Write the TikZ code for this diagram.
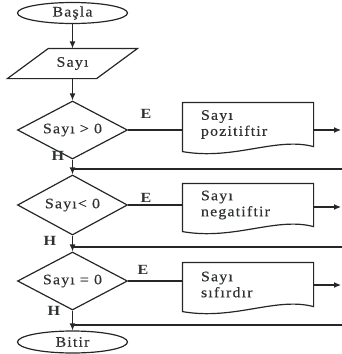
\documentclass[tikz,border=0pt]{standalone}
\usepackage{fontspec}
\setmainfont{Liberation Serif}[FakeStretch=1.1,LetterSpace=8,FakeBold=0.4]
\newfontfamily\labfont{Liberation Serif}[FakeStretch=1.15]
\usetikzlibrary{shapes.geometric,arrows.meta}
\definecolor{ln}{HTML}{262626}
\definecolor{tx}{HTML}{2E332E}
\newcommand{\docshape}[1]{%
  \draw[ln] (#1.north west) -- (#1.north east) -- (#1.south east)
    .. controls ([shift={(-38,-10)}]#1.south east) and ([shift={(52,14)}]#1.south west)
    .. ([shift={(0,5)}]#1.south west) -- cycle;}
\begin{document}
\begin{tikzpicture}[x=1pt,y=-1pt,line width=1.2pt,
  every node/.style={text=tx,font=\fontsize{14.5}{16}\selectfont},
  term/.style={ellipse,draw=ln,minimum width=110,minimum height=21,inner sep=0},
  dec/.style={diamond,draw=ln,minimum width=110,minimum height=58,inner sep=0,aspect=1.9},
  iobox/.style={minimum width=129,minimum height=29,inner sep=0},
  docbox/.style={minimum width=130,text width=94,inner xsep=18,inner ysep=0,align=left},
  lab/.style={font=\labfont\fontsize{14}{15}\selectfont\bfseries,inner sep=0},
  arr/.style={draw=ln,-{Latex[length=7pt,width=6pt]}},
  con/.style={draw=ln}]
\useasboundingbox (0,0) rectangle (342,354);
% column
\node[term] (t1) at (72.5,13) {Başla};
\node[iobox] (p) at (72.5,63.5) {Sayı};
\draw[ln] ([shift={(41,0)}]p.north west) -- (p.north east) -- ([shift={(-41,0)}]p.south east) -- (p.south west) -- cycle;
\node[dec] (d1) at (72.5,130) {Sayı > 0};
\node[dec,minimum height=60] (d2) at (72.5,205) {Sayı< 0};
\node[dec] (d3) at (72.5,281) {Sayı = 0};
\node[term,minimum height=22] (t2) at (72.5,342) {Bitir};
% document boxes
\node[docbox,minimum height=43] (b1) at (248,124.5) {Sayı\\pozitiftir};
\node[docbox,minimum height=42] (b2) at (248,205) {Sayı\\negatiftir};
\node[docbox,minimum height=43] (b3) at (248,284.5) {Sayı\\sıfırdır};
\docshape{b1}\docshape{b2}\docshape{b3}
% labels
\node[lab] (e1) at (146,114) {E};
\node[lab] (e2) at (146,198) {E};
\node[lab] (e3) at (143,270) {E};
\node[lab] (h1) at (58,156) {H};
\node[lab] (h2) at (50,241) {H};
\node[lab] (h3) at (54,311) {H};
% coordinates
\coordinate (j1) at (72.5,169);
\coordinate (j2) at (72.5,247);
\coordinate (j3) at (72.5,325);
\coordinate (r1) at (342,169);
\coordinate (r2) at (342,247);
\coordinate (r3) at (342,325);
\coordinate (o1) at (341,130);
\coordinate (o2) at (341,207);
\coordinate (o3) at (341,285);
% connectors
\draw[arr] (t1) -- (p.north);
\draw[arr] (p.south) -- (d1.north);
\draw[arr] (d1.south) -- (d2.north);
\draw[arr] (d2.south) -- (d3.north);
\draw[arr] (d3.south) -- (t2.north);
\draw[con] (r1) -- (j1);
\draw[con] (r2) -- (j2);
\draw[con] (r3) -- (j3);
\draw[con] (d1.east) -- (b1.west |- d1.east);
\draw[con] (d2.east) -- (b2.west |- d2.east);
\draw[con] (d3.east) -- (b3.west |- d3.east);
\draw[arr] (b1.east |- o1) -- (o1);
\draw[arr] (b2.east |- o2) -- (o2);
\draw[arr] (b3.east |- o3) -- (o3);
\end{tikzpicture}
\end{document}
